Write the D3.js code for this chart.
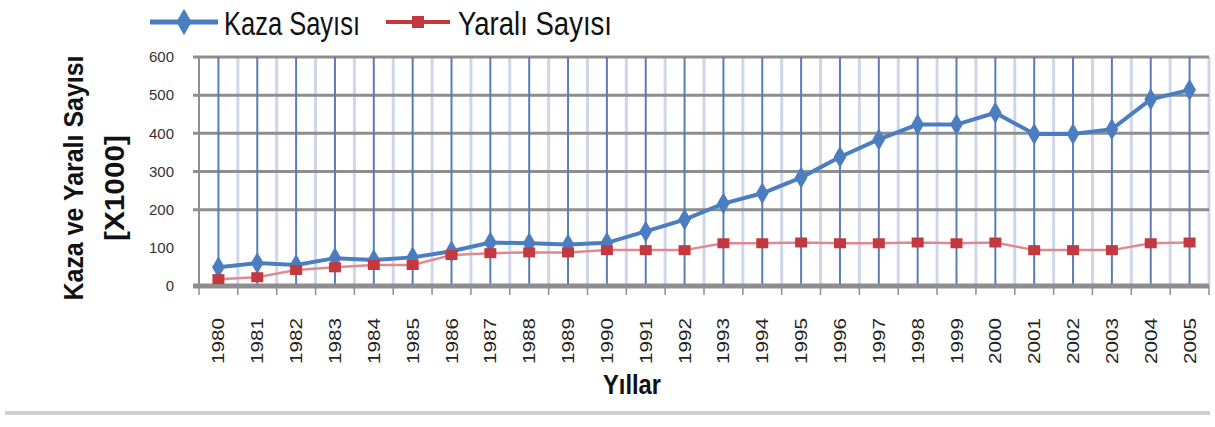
<!DOCTYPE html>
<html>
<head>
<meta charset="utf-8">
<script src="https://cdn.jsdelivr.net/npm/d3@7/dist/d3.min.js"></script>
<style>
  html, body { margin: 0; padding: 0; background: #fff; }
  svg { display: block; }
  text { font-family: "Liberation Sans", Arial, sans-serif; }
</style>
</head>
<body>
<svg id="chart" width="1215" height="427"></svg>
<script>
const years = ["1980","1981","1982","1983","1984","1985","1986","1987","1988","1989",
               "1990","1991","1992","1993","1994","1995","1996","1997","1998","1999",
               "2000","2001","2002","2003","2004","2005"];
const kazaSayisi = [49, 60, 55, 73, 68, 75, 91, 114, 112, 109,
                    113, 143, 174, 216, 243, 284, 338, 384, 423, 423,
                    454, 398, 398, 411, 489, 514];
const yaraliSayisi = [18, 23, 42, 49, 55, 55, 81, 86, 88, 88,
                      94, 94, 94, 112, 112, 114, 112, 112, 114, 112,
                      114, 94, 94, 94, 112, 114];
const yTicks = [0, 100, 200, 300, 400, 500, 600];
const seriesNames = ["Kaza Sayısı", "Yaralı Sayısı"];
const xTitle = "Yıllar";
const yTitle1 = "Kaza ve Yaralı Sayısı";
const yTitle2 = "[X1000]";

(function () {
const svg = d3.select("#chart");
const pLeft = 199, pRight = 1209, pTop = 57, pBottom = 286;

const x = d3.scaleBand().domain(years).range([pLeft, pRight]).padding(0);
const y = d3.scaleLinear().domain([0, 600]).range([pBottom, pTop]);
const cx = d => x(d) + x.bandwidth() / 2;

const BLUE = "#4a7ec0", RED = "#c4393f";

// light vertical gridlines at category boundaries
const bounds = years.map(d => x(d)).concat([pRight]);
svg.append("g").selectAll("line").data(bounds.slice(1)).join("line")
  .attr("x1", d => d).attr("x2", d => d)
  .attr("y1", pTop).attr("y2", pBottom)
  .attr("stroke", "#cdd6ea").attr("stroke-width", 3);

// horizontal gridlines (the 100 line is not visible in the original)
svg.append("g").selectAll("line").data(yTicks.filter(t => t > 100)).join("line")
  .attr("x1", pLeft - 6).attr("x2", pRight)
  .attr("y1", d => y(d)).attr("y2", d => y(d))
  .attr("stroke", "#8e8e8e").attr("stroke-width", 3);

// dark vertical gridlines at category centers
svg.append("g").selectAll("line").data(years).join("line")
  .attr("x1", d => cx(d)).attr("x2", d => cx(d))
  .attr("y1", pTop).attr("y2", pBottom)
  .attr("stroke", "#5a7db4").attr("stroke-width", 2);

// y axis line
svg.append("line").attr("x1", pLeft).attr("x2", pLeft)
  .attr("y1", pTop).attr("y2", pBottom + 2)
  .attr("stroke", "#8e8e8e").attr("stroke-width", 2);

// x axis
const xAxis = d3.axisBottom(x).tickSize(0).tickFormat("");
const gx = svg.append("g").attr("transform", `translate(0,${pBottom})`).call(xAxis);
gx.select(".domain").remove();
svg.append("line").attr("x1", pLeft - 6).attr("x2", pRight)
  .attr("y1", pBottom).attr("y2", pBottom)
  .attr("stroke", "#8e8e8e").attr("stroke-width", 5);
svg.append("g").selectAll("line").data(bounds).join("line")
  .attr("x1", d => d).attr("x2", d => d)
  .attr("y1", pBottom).attr("y2", pBottom + 9)
  .attr("stroke", "#8e8e8e").attr("stroke-width", 1.5);

// x labels (rotated)
svg.append("g").selectAll("text").data(years).join("text")
  .attr("transform", d => `translate(${cx(d) + 6},318) rotate(-90)`)
  .attr("text-anchor", "end")
  .attr("font-size", 16).attr("fill", "#222")
  .attr("textLength", 46).attr("lengthAdjust", "spacingAndGlyphs")
  .text(d => d);

// y axis ticks
const yAxis = d3.axisLeft(y).tickValues(yTicks).tickSize(0).tickPadding(0);
const gy = svg.append("g").attr("transform", `translate(174,0)`).call(yAxis);
gy.select(".domain").remove();
gy.selectAll("text").attr("font-size", 15).attr("fill", "#333")
  .attr("font-family", "'Liberation Sans', Arial, sans-serif");

// Yaralı line
const line = d3.line().x((d, i) => cx(years[i])).y(d => y(d));
svg.append("path").datum(yaraliSayisi)
  .attr("d", line).attr("fill", "none")
  .attr("stroke", "#e08890").attr("stroke-width", 2.5);

// Kaza line
svg.append("path").datum(kazaSayisi)
  .attr("d", line).attr("fill", "none")
  .attr("stroke", BLUE).attr("stroke-width", 4);

// Kaza markers (diamonds)
const diamond = d3.symbol().type(d3.symbolDiamond).size(140);
svg.append("g").selectAll("path").data(kazaSayisi).join("path")
  .attr("transform", (d, i) => `translate(${cx(years[i])},${y(d)})`)
  .attr("d", diamond).attr("fill", BLUE);

// Yaralı markers (squares)
svg.append("g").selectAll("rect").data(yaraliSayisi).join("rect")
  .attr("x", (d, i) => cx(years[i]) - 6).attr("y", d => y(d) - 5)
  .attr("width", 12).attr("height", 10).attr("fill", RED);

// Legend
const lg = svg.append("g");
lg.append("line").attr("x1", 150).attr("x2", 218).attr("y1", 22).attr("y2", 22)
  .attr("stroke", BLUE).attr("stroke-width", 5);
lg.append("path").attr("transform", "translate(184,22)")
  .attr("d", d3.symbol().type(d3.symbolDiamond).size(200)()).attr("fill", BLUE);
lg.append("text").attr("x", 224).attr("y", 35).attr("font-size", 33).attr("fill", "#111")
  .attr("textLength", 136).attr("lengthAdjust", "spacingAndGlyphs")
  .text(seriesNames[0]);
lg.append("line").attr("x1", 386).attr("x2", 450).attr("y1", 22).attr("y2", 22)
  .attr("stroke", RED).attr("stroke-width", 4);
lg.append("rect").attr("x", 412).attr("y", 16).attr("width", 12).attr("height", 12).attr("fill", RED);
lg.append("text").attr("x", 458).attr("y", 35).attr("font-size", 33).attr("fill", "#111")
  .attr("textLength", 154).attr("lengthAdjust", "spacingAndGlyphs")
  .text(seriesNames[1]);

// Axis titles
svg.append("text").attr("x", 632).attr("y", 394).attr("text-anchor", "middle")
  .attr("font-size", 28).attr("font-weight", "bold").attr("fill", "#111")
  .attr("textLength", 58).attr("lengthAdjust", "spacingAndGlyphs").text(xTitle);
svg.append("text").attr("transform", "translate(83,178) rotate(-90)")
  .attr("text-anchor", "middle").attr("font-size", 28).attr("font-weight", "bold")
  .attr("fill", "#111").attr("textLength", 245).attr("lengthAdjust", "spacingAndGlyphs")
  .text(yTitle1);
svg.append("text").attr("transform", "translate(124,188) rotate(-90)")
  .attr("text-anchor", "middle").attr("font-size", 28).attr("font-weight", "bold")
  .attr("fill", "#111").attr("textLength", 106).attr("lengthAdjust", "spacingAndGlyphs")
  .text(yTitle2);

// separator line at bottom
svg.append("rect").attr("x", 5).attr("y", 411).attr("width", 1205).attr("height", 4)
  .attr("fill", "#cfcfcf");
})();
</script>
</body>
</html>
